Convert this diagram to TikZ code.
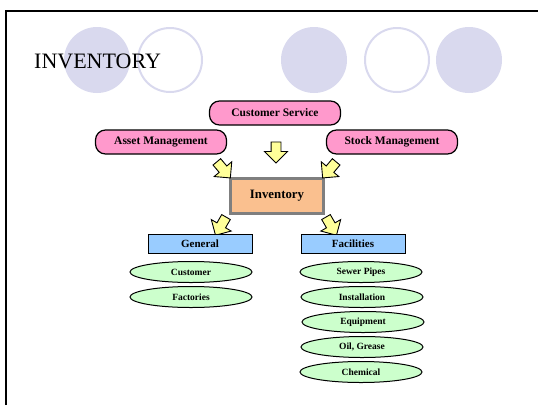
\documentclass[tikz,border=0pt]{standalone}
\usepackage{fontspec}
\setmainfont{Liberation Serif}
\usetikzlibrary{shapes.geometric,shapes.arrows}
\definecolor{lav}{HTML}{D9D9EE}
\definecolor{pinkf}{HTML}{FF99CC}
\definecolor{peach}{HTML}{FAC08F}
\definecolor{bluef}{HTML}{99CCFF}
\definecolor{greenf}{HTML}{CCFFCC}
\definecolor{yel}{HTML}{FFFF99}
\definecolor{grayb}{HTML}{7F7F7F}
\begin{document}
\begin{tikzpicture}[x=1pt,y=-1pt,
  fullcirc/.style={fill=lav, draw=none},
  ringcirc/.style={draw=lav, line width=2pt, fill=none},
  pinkbox/.style={draw=black, line width=1.2pt, fill=pinkf, rounded corners=10pt,
    minimum width=131pt, minimum height=24pt, inner sep=0pt,
    font=\fontsize{11.5}{13}\selectfont\bfseries},
  invbox/.style={draw=grayb, line width=2.5pt, fill=peach, minimum width=93pt,
    minimum height=35pt, inner sep=0pt, font=\fontsize{12.8}{15}\selectfont\bfseries},
  bluebox/.style={draw=black, line width=1pt, fill=bluef, minimum width=104pt,
    minimum height=19pt, inner sep=0pt, font=\fontsize{11}{12}\selectfont\bfseries},
  greenell/.style={ellipse, draw=black, line width=1pt, fill=greenf, minimum width=122pt,
    minimum height=21pt, inner sep=0pt, font=\fontsize{9.5}{11}\selectfont\bfseries},
  blockarrow/.style={single arrow, draw=black, line width=0.9pt, fill=yel,
    inner sep=4.5pt, single arrow head extend=6.5pt, single arrow head indent=0pt,
    minimum height=21pt}
]
\useasboundingbox (0,0) rectangle (538,405);
% frame
\draw[line width=2.5pt, black] (6,405) -- (6,11) -- (538,11);
% decorative circles
\fill[fullcirc] (97,60) circle (33);
\draw[ringcirc] (170,60) circle (32);
\fill[fullcirc] (314,60) circle (33);
\draw[ringcirc] (397,60) circle (32);
\fill[fullcirc] (469,60) circle (33);
% title
\node[anchor=base west, inner sep=0pt, font=\fontsize{22}{24}\selectfont] (title) at (34,68) {INVENTORY};
% top nodes
\node[pinkbox] (cs) at (275,113) {Customer Service};
\node[pinkbox] (am) at (161,142) {Asset Management};
\node[pinkbox] (sm) at (392,142) {Stock Management};
\node[invbox] (inv) at (277,196) {Inventory};
% block arrows
\node[blockarrow, rotate=-90] (a1) at (276,150) {};
\node[blockarrow, rotate=-50] (a2) at (222,168) {};
\node[blockarrow, rotate=-130] (a3) at (331,168) {};
\node[blockarrow, rotate=-120] (a4) at (222,224) {};
\node[blockarrow, rotate=-60] (a5) at (330,224) {};
% lower boxes
\node[bluebox] (gen) at (200,244) {General};
\node[bluebox] (fac) at (353,244) {Facilities};
\node[greenell] (cust) at (191,272) {Customer};
\node[greenell] (fact) at (191,297) {Factories};
\node[greenell] (sew) at (361,272) {Sewer Pipes};
\node[greenell] (inst) at (362,297) {Installation};
\node[greenell] (equ) at (363,322) {Equipment};
\node[greenell] (oil) at (362,347) {Oil, Grease};
\node[greenell] (chem) at (361,372) {Chemical};
\end{tikzpicture}
\end{document}
